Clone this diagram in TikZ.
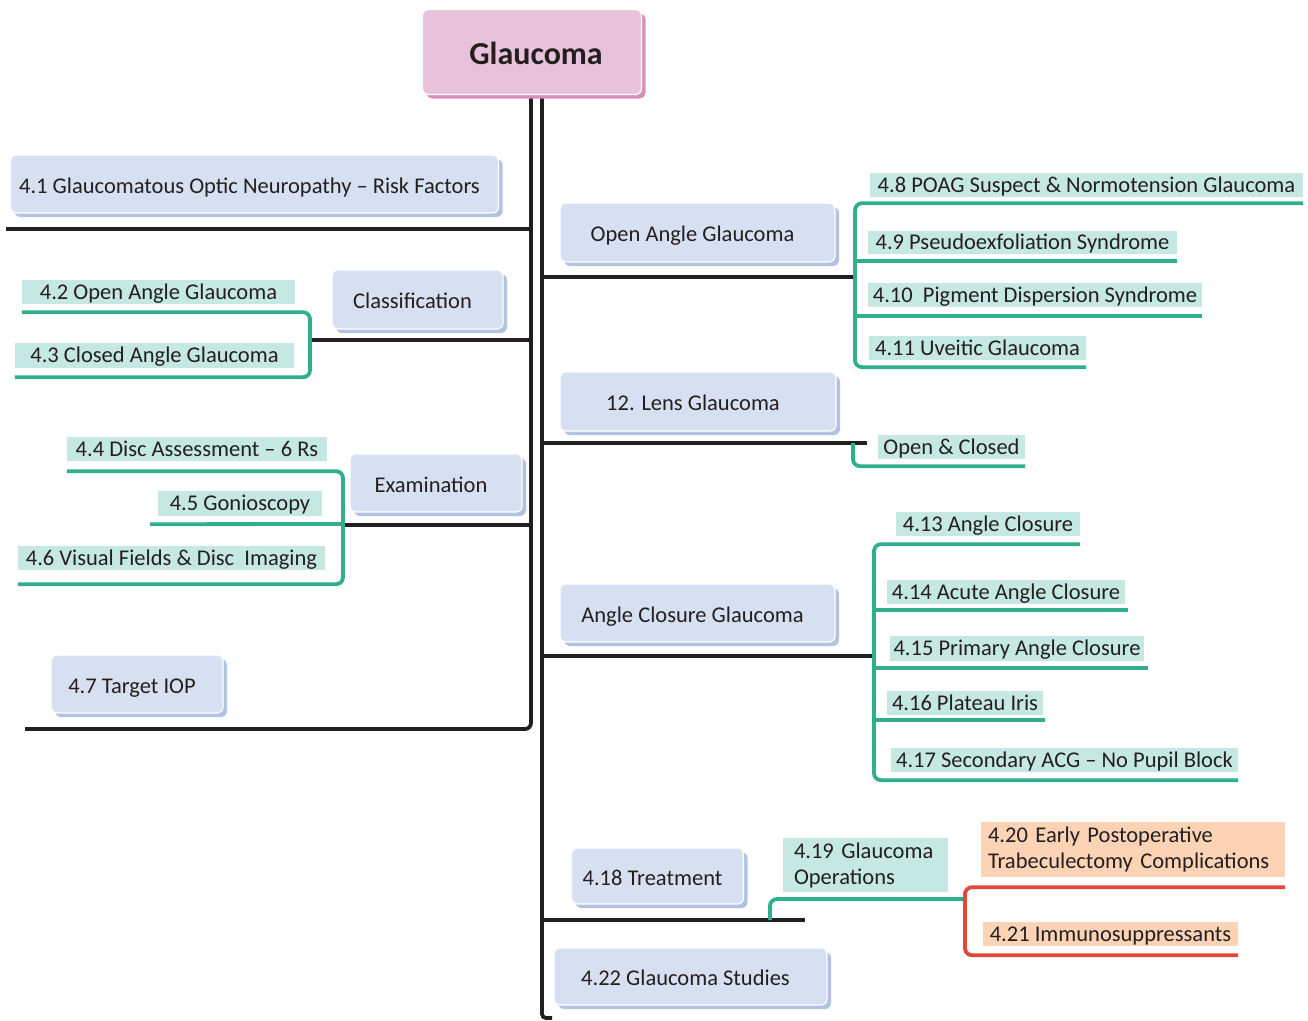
\documentclass[tikz,border=0pt]{standalone}
\usepackage{fontspec}
\setmainfont{Carlito}
\usetikzlibrary{shadows,backgrounds}
\definecolor{ink}{HTML}{231F20}
\definecolor{boxfill}{HTML}{D7E0F1}
\definecolor{boxshade}{HTML}{B1C2E3}
\definecolor{pinkfill}{HTML}{E8C1DA}
\definecolor{pinkshade}{HTML}{D98FBC}
\definecolor{tealline}{HTML}{30AF8E}
\definecolor{tealfill}{HTML}{C6E8E2}
\definecolor{redline}{HTML}{E2483A}
\definecolor{orangefill}{HTML}{FCD3B5}
\newcommand{\txtfont}{\fontsize{22.5}{26}\selectfont}
\begin{document}
\begin{tikzpicture}[x=1pt,y=-1pt,
  trunk/.style={draw=ink, line width=3.8pt},
  tealln/.style={draw=tealline, line width=3.8pt, rounded corners=7pt},
  redln/.style={draw=redline, line width=3.8pt, rounded corners=7pt},
  topic/.style={fill=boxfill, draw=white, line width=1.2pt, rounded corners=6pt,
    drop shadow={shadow xshift=4pt, shadow yshift=-4pt, fill=boxshade, opacity=1},
    text=ink, font=\txtfont, inner sep=0pt, text height=20pt, text depth=2pt,
    execute at end node={\hspace*{10pt}}},
  headbox/.style={fill=pinkfill, draw=white, line width=1.2pt, rounded corners=6pt,
    drop shadow={shadow xshift=4pt, shadow yshift=-4pt, fill=pinkshade, opacity=1},
    text=ink, font=\bfseries\fontsize{32}{38}\selectfont, inner sep=0pt,
    text height=30pt, text depth=5pt},
  lab/.style={fill=tealfill, text=ink, font=\txtfont, inner sep=0pt, text height=18pt, text depth=4pt},
  lab2/.style={fill=#1, text=ink, font=\txtfont, inner sep=0pt, align=left},
  olab/.style={fill=orangefill, text=ink, font=\txtfont, inner sep=0pt, text height=18pt, text depth=4pt},
]
\useasboundingbox (0,0) rectangle (1308,1020);

% title and topics
\node[headbox, minimum width=219, minimum height=85] (title) at (532,52) {\hspace*{8pt}Glaucoma};
\node[topic, minimum width=488, minimum height=58] (t41) at (254.5,184) {4.1 Glaucomatous Optic Neuropathy – Risk Factors};
\node[topic, minimum width=171, minimum height=59] (cls) at (417.5,299.5) {Classification};
\node[topic, minimum width=172, minimum height=58] (exa) at (436,483) {Examination};
\node[topic, minimum width=172, minimum height=58] (t47) at (137,684) {4.7 Target IOP};
\node[topic, minimum width=275, minimum height=59] (oag) at (697.5,232.5) {Open Angle Glaucoma};
\node[topic, minimum width=276, minimum height=59] (lens) at (698,401.5) {12. Lens Glaucoma};
\node[topic, minimum width=275, minimum height=58] (acg) at (697.5,613) {Angle Closure Glaucoma};
\node[topic, minimum width=172, minimum height=56] (trt) at (657.5,876) {4.18 Treatment};
\node[topic, minimum width=273, minimum height=57] (stu) at (690.5,976.5) {4.22 Glaucoma Studies};

% sub-topic labels
\node[lab, minimum width=273, minimum height=24] (l42) at (158.5,292) {4.2 Open Angle Glaucoma};
\node[lab, minimum width=279, minimum height=25] (l43) at (154.5,355.5) {4.3 Closed Angle Glaucoma};
\node[lab, minimum width=260, minimum height=24] (l44) at (197,449) {4.4 Disc Assessment – 6 Rs};
\node[lab, minimum width=164, minimum height=25] (l45) at (240,503.5) {4.5 Gonioscopy};
\node[lab, minimum width=307, minimum height=24] (l46) at (171.5,558) {4.6 Visual Fields \& Disc\ \ Imaging};
\node[lab, minimum width=433, minimum height=24] (l48) at (1086.5,185) {4.8 POAG Suspect \& Normotension Glaucoma};
\node[lab, minimum width=309, minimum height=23] (l49) at (1022.5,242.5) {4.9 Pseudoexfoliation Syndrome};
\node[lab, minimum width=334, minimum height=24] (l410) at (1035,295) {4.10\ \ Pigment Dispersion Syndrome};
\node[lab, minimum width=217, minimum height=24] (l411) at (977.5,348) {4.11 Uveitic Glaucoma};
\node[lab, minimum width=147, minimum height=24] (loc) at (951.5,447) {Open \& Closed};
\node[lab, minimum width=184, minimum height=24] (l413) at (988,524) {4.13 Angle Closure};
\node[lab, minimum width=238, minimum height=24] (l414) at (1006,592) {4.14 Acute Angle Closure};
\node[lab, minimum width=254, minimum height=25] (l415) at (1017,648.5) {4.15 Primary Angle Closure};
\node[lab, minimum width=156, minimum height=24] (l416) at (965,703) {4.16 Plateau Iris};
\node[lab, minimum width=347, minimum height=24] (l417) at (1064.5,760) {4.17 Secondary ACG – No Pupil Block};
\node[lab2=tealfill, minimum width=165, minimum height=54, text width=143] (l419) at (865.5,865) {4.19 Glaucoma\\Operations};
\node[lab2=orangefill, minimum width=304, minimum height=55, text width=290] (l420) at (1133,849.5) {4.20 Early Postoperative\\Trabeculectomy Complications};
\node[olab, minimum width=255, minimum height=24] (l421) at (1110.5,934) {4.21 Immunosuppressants};

% junction coordinates
\coordinate (tl) at (531,95);
\coordinate (tr) at (542,95);
\coordinate (lend) at (25,729);
\coordinate (rend) at (552,1018);
\coordinate (e1) at (6,229);
\coordinate (L1) at (531,229);
\coordinate (L2) at (531,340);
\coordinate (L3) at (531,525);
\coordinate (cj) at (310,340);
\coordinate (ej) at (343,524);
\coordinate (R1) at (542,277);
\coordinate (R2) at (542,443);
\coordinate (R3) at (542,656);
\coordinate (R4) at (542,920);
\coordinate (oj) at (855,277);
\coordinate (lj) at (853,443);
\coordinate (aj) at (874,656);
\coordinate (tj) at (770,920);
\coordinate (rj) at (965,899);

\begin{scope}[on background layer]
  % trunks
  \draw[trunk, rounded corners=6pt] (tl) -- (tl |- lend) -- (lend);
  \draw[trunk, rounded corners=4pt] (tr) -- (tr |- rend) -- (rend);
  % left branches
  \draw[trunk] (L1) -- (e1);
  \draw[trunk] (L2) -- (cj);
  \draw[trunk] (L3) -- ([yshift=-1pt]ej);
  % right branches
  \draw[trunk] (R1) -- (oj);
  \draw[trunk] (R2) -- ([xshift=14pt]lj);
  \draw[trunk] (R3) -- (aj);
  \draw[trunk] (R4) -- ([xshift=35pt]tj);
  % classification
  \draw[tealln] ([yshift=-8pt]l42.south west) -| (cj) |- ([yshift=-9pt]l43.south west);
  % examination
  \draw[tealln] ([yshift=-10pt]l44.south west) -| (ej) |- ([yshift=-14pt]l46.south west);
  \draw[tealln] ([xshift=-8pt,yshift=-8pt]l45.south west) -- (ej);
  % open angle
  \draw[tealln] ([yshift=-6pt]l48.south east) -| (oj) |- ([yshift=-7pt]l411.south east);
  \draw[tealln] ([yshift=-7pt]l49.south east) -- ([yshift=-7pt]l49.south east -| oj);
  \draw[tealln] ([yshift=-9pt]l410.south east) -- ([yshift=-9pt]l410.south east -| oj);
  % lens
  \draw[tealln] (lj) |- ([yshift=-7pt]loc.south east);
  % angle closure
  \draw[tealln] ([yshift=-8pt]l413.south east) -| (aj) |- ([yshift=-8pt]l417.south east);
  \draw[tealln] ([xshift=3pt,yshift=-6pt]l414.south east) -- ([yshift=-6pt]l414.south east -| aj);
  \draw[tealln] ([xshift=4pt,yshift=-7pt]l415.south east) -- ([yshift=-7pt]l415.south east -| aj);
  \draw[tealln] ([xshift=2pt,yshift=-5pt]l416.south east) -- ([yshift=-5pt]l416.south east -| aj);
  % treatment
  \draw[tealln] (tj) |- (rj);
  \draw[redln] ([yshift=-10pt]l420.south east) -| (rj) |- ([yshift=-9pt]l421.south east);
\end{scope}
\end{tikzpicture}
\end{document}
